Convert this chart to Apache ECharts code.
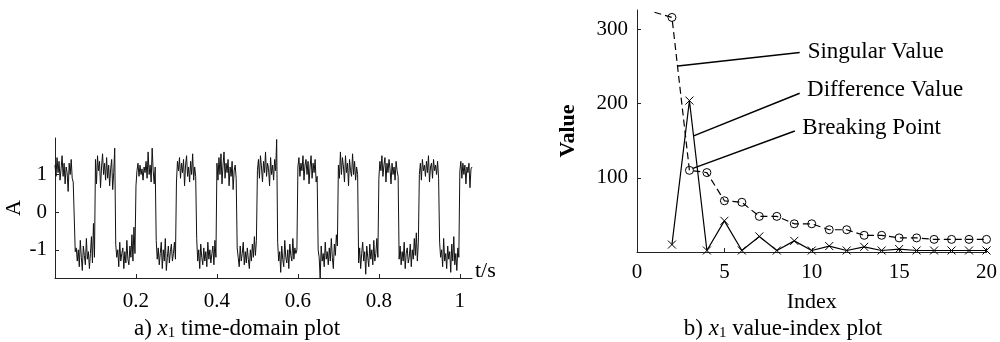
<!DOCTYPE html>
<html>
<head>
<meta charset="utf-8">
<script src="https://cdn.jsdelivr.net/npm/echarts@6/dist/echarts.min.js"></script>
<style>
  html, body { margin: 0; padding: 0; background: #fff; }
  #main { width: 1000px; height: 342px; }
</style>
</head>
<body>
<div id="main"></div>
<script>
// ---- a) time-domain signal x1, sampled every 2.5 ms (read off the plot)
var dt = 0.0025;
var signalValues = [
  1.25,0.95,1.45,1.05,1.35,0.85,1.15,1.5,0.95,1.3,0.75,1.2,1.05,0.55,1.3,1.0,1.4,0.9,0.8,0.85,
  -1.05,-0.95,-1.3,-1.0,-1.45,-0.75,-1.2,-1.55,-0.9,-1.15,-1.4,-0.7,-1.25,-1.05,-1.5,-1.1,-0.65,-1.35,-0.3,-1.2,
  1.4,0.75,1.5,1.1,1.35,0.65,1.2,1.55,1.0,1.3,0.85,1.45,0.9,1.25,0.7,1.15,1.4,0.6,1.05,1.7,
  -0.85,-1.2,-1.0,-1.45,-0.8,-1.3,-1.1,-0.95,-1.5,-1.05,-1.35,-0.75,-1.25,-1.4,-0.9,-1.2,-0.6,-1.3,-0.4,-1.1,
  0.7,1.1,1.3,0.95,1.25,1.0,1.15,0.85,1.2,1.05,1.35,0.9,1.6,1.0,1.25,0.8,1.7,1.1,0.75,1.2,
  -0.75,-1.25,-0.95,-1.4,-1.1,-0.8,-1.5,-1.0,-1.3,-0.7,-1.55,-1.2,-0.9,-1.35,-1.05,-0.85,-1.3,-1.1,-0.8,-1.25,
  0.8,1.35,1.1,1.45,0.9,1.3,1.05,1.4,0.7,1.25,1.5,0.95,1.2,0.8,1.35,1.0,1.55,0.85,1.2,0.95,
  -0.7,-1.3,-1.0,-1.5,-0.85,-1.2,-1.4,-0.95,-1.3,-1.05,-1.45,-0.8,-1.25,-1.0,-1.35,-1.1,-0.9,-1.4,-0.75,-1.2,
  1.3,0.85,1.45,1.0,1.55,0.75,1.25,1.6,0.9,1.3,1.05,1.4,0.7,1.2,0.95,1.35,0.6,1.1,1.25,0.9,
  -0.95,-1.2,-1.45,-0.9,-1.3,-1.1,-0.8,-1.4,-1.05,-1.35,-0.95,-1.25,-1.5,-1.0,-1.3,-0.85,-1.2,-0.65,-1.15,-0.75,
  1.1,1.4,0.9,1.5,1.2,0.8,1.35,1.05,1.6,0.95,1.3,1.15,0.7,1.45,1.0,1.25,0.85,1.4,1.1,1.93,
  -0.8,-1.3,-1.05,-1.6,-0.9,-1.25,-1.45,-0.75,-1.2,-1.35,-1.0,-1.5,-0.85,-1.15,-1.3,-0.7,-1.25,-0.95,-1.1,-1.0,
  1.2,1.45,0.95,1.3,1.1,1.5,0.85,1.25,1.4,1.0,1.35,0.75,1.2,1.5,0.9,1.3,1.05,1.4,0.8,0.95,
  -1.0,-1.2,-1.75,-0.9,-1.3,-1.1,-1.45,-0.8,-1.25,-1.05,-1.4,-0.95,-1.3,-0.7,-1.2,-1.5,-0.85,-1.15,-0.6,-0.9,
  1.25,0.9,1.6,1.0,1.45,1.2,0.8,1.5,1.05,1.3,0.7,1.4,1.1,0.95,1.55,1.0,1.35,0.85,1.2,1.0,
  -1.35,-0.95,-1.5,-1.1,-0.8,-1.3,-1.05,-1.65,-0.9,-1.2,-1.45,-0.85,-1.25,-1.0,-1.4,-0.75,-1.3,-1.1,-0.7,-1.2,
  0.9,1.35,1.1,1.5,0.95,1.25,1.45,0.8,1.3,1.05,1.4,1.15,0.75,1.3,1.0,1.2,0.85,1.35,1.1,0.95,
  -1.25,-0.9,-1.4,-1.05,-1.3,-0.8,-1.5,-1.1,-0.95,-1.35,-1.2,-0.85,-1.45,-1.0,-1.25,-0.7,-1.15,-0.55,-1.3,-0.8,
  1.0,1.3,0.85,1.4,1.1,1.25,0.95,1.35,1.05,1.5,0.8,1.2,1.3,0.9,1.4,1.1,1.25,1.0,1.35,0.9,
  -0.8,-1.2,-1.0,-1.45,-0.7,-1.3,-1.1,-1.5,-0.9,-1.25,-1.05,-1.6,-0.85,-1.3,-0.65,-1.4,-1.1,-1.55,-0.95,-1.2,
  1.1,1.35,0.9,1.3,1.0,1.25,0.75,1.2,1.05,1.3,0.65,1.15,1.2
];
var timeTicks = [0.2, 0.4, 0.6, 0.8, 1];
var ampTicks = [-1, 0, 1];

// ---- b) value-index plot
var indexes = [1,2,3,4,5,6,7,8,9,10,11,12,13,14,15,16,17,18,19,20];
var singularValues = [323,316,110,107,69,67,48,48,38,38,30,30,22.5,22.5,19,19,17,17,17,17];
var diffIndexes = [2,3,4,5,6,7,8,9,10,11,12,13,14,15,16,17,18,19,20];
var diffValues = [10,204,2,42,2,21,2,15,2,8,2,7,2,4,2,2,2,2,2];
var valueTicks = [100, 200, 300];

// annotation lines [label, from, to] in data units
var notes = [
  ['Singular Value',   [2.34, 250.6], [9.31, 268.6]],
  ['Difference Value', [3.24, 156.5], [9.31, 213.8]],
  ['Breaking Point',   [3.20, 112.6], [9.03, 162.9]]
];

var serif = "'Liberation Serif', 'Times New Roman', serif";
var ink = '#000';

function axisBase() {
  return {
    axisLine: { show: true, onZero: false, lineStyle: { color: '#222', width: 1 } },
    axisTick: { show: true, inside: true, length: 4, lineStyle: { color: '#222' } },
    splitLine: { show: false },
    axisLabel: { color: ink, fontFamily: serif, fontSize: 21 }
  };
}

var xA = axisBase(), xB = axisBase(), yA = axisBase(), yB = axisBase();

Object.assign(xA, {
  type: 'value', gridIndex: 0, min: 0, max: 1.03,
  name: 't/s', nameLocation: 'end', nameGap: 3,
  nameTextStyle: { color: ink, fontFamily: serif, fontSize: 22, verticalAlign: 'bottom', lineHeight: 14 }
});
xA.axisLabel = Object.assign({}, xA.axisLabel, { margin: 13, customValues: timeTicks });
xA.axisTick = Object.assign({}, xA.axisTick, { customValues: timeTicks });

Object.assign(yA, {
  type: 'value', gridIndex: 0, min: -1.75, max: 1.97,
  name: 'A', nameLocation: 'middle', nameGap: 30, nameRotate: 90,
  nameTextStyle: { color: ink, fontFamily: serif, fontSize: 22 }
});
yA.axisLabel = Object.assign({}, yA.axisLabel, { margin: 8, customValues: ampTicks });
yA.axisTick = Object.assign({}, yA.axisTick, { customValues: ampTicks });

Object.assign(xB, {
  type: 'value', gridIndex: 1, min: 0, max: 20, interval: 5,
  name: 'Index', nameLocation: 'middle', nameGap: 39,
  nameTextStyle: { color: ink, fontFamily: serif, fontSize: 22 }
});
xB.axisLabel = Object.assign({}, xB.axisLabel, { margin: 10 });

Object.assign(yB, {
  type: 'value', gridIndex: 1, min: 0, max: 326,
  name: 'Value', nameLocation: 'middle', nameGap: 58, nameRotate: 90,
  nameTextStyle: { color: ink, fontFamily: serif, fontSize: 22, fontWeight: 'bold' }
});
yB.axisLabel = Object.assign({}, yB.axisLabel, { margin: 9, customValues: valueTicks });
yB.axisTick = Object.assign({}, yB.axisTick, { customValues: valueTicks });

// caption text styles (x1 in italic with subscript)
var capRich = {
  t: { fontFamily: serif, fontSize: 23, fontWeight: 'normal', color: ink },
  x: { fontFamily: serif, fontSize: 23, fontWeight: 'normal', fontStyle: 'italic', color: ink },
  s: { fontFamily: serif, fontSize: 15, fontWeight: 'normal', color: ink, padding: [10, 0, 0, 0] }
};

var myChart = echarts.init(document.getElementById('main'), null, { renderer: 'canvas' });

myChart.setOption({
  animation: false,
  backgroundColor: '#fff',
  grid: [
    { left: 55, top: 138, width: 417, height: 140, containLabel: false },
    { left: 637, top: 10, width: 350, height: 242, containLabel: false }
  ],
  title: [
    {
      left: 232, top: 311, textAlign: 'center',
      text: '{t|a) }{x|x}{s|1}{t| time-domain plot}',
      textStyle: { fontWeight: 'normal', rich: capRich }
    },
    {
      left: 778, top: 311, textAlign: 'center',
      text: '{t|b) }{x|x}{s|1}{t| value-index plot}',
      textStyle: { fontWeight: 'normal', rich: capRich }
    }
  ],
  xAxis: [xA, xB],
  yAxis: [yA, yB],
  series: [
    {
      name: 'x1',
      type: 'line',
      xAxisIndex: 0, yAxisIndex: 0,
      data: signalValues.map(function (v, i) { return [i * dt, v]; }),
      showSymbol: false,
      lineStyle: { color: '#111', width: 1 },
      silent: true
    },
    {
      name: 'Singular Value',
      type: 'line',
      xAxisIndex: 1, yAxisIndex: 1,
      data: indexes.map(function (x, i) {
        // first point has no marker in the figure
        return i === 0 ? { value: [x, singularValues[i]], symbol: 'none' } : [x, singularValues[i]];
      }),
      symbol: 'circle',
      symbolSize: 8,
      itemStyle: { color: 'transparent', borderColor: ink, borderWidth: 1 },
      lineStyle: { color: ink, width: 1.2, type: [7, 4] },
      markLine: {
        silent: true,
        symbol: ['none', 'none'],
        lineStyle: { color: ink, width: 1.5, type: 'solid' },
        label: {
          show: true, position: 'end', distance: 8,
          formatter: function (p) { return p.name; },
          color: ink, fontFamily: serif, fontSize: 23, padding: [0, 0, 8, 0]
        },
        data: notes.map(function (n) {
          return [{ name: n[0], coord: n[1] }, { coord: n[2] }];
        })
      }
    },
    {
      name: 'Difference Value',
      type: 'line',
      xAxisIndex: 1, yAxisIndex: 1,
      data: diffIndexes.map(function (x, i) { return [x, diffValues[i]]; }),
      symbol: 'path://M0,0L10,10M10,0L0,10',
      symbolSize: 8,
      itemStyle: { color: 'transparent', borderColor: ink, borderWidth: 1 },
      lineStyle: { color: ink, width: 1.2 }
    }
  ]
});
</script>
</body>
</html>
